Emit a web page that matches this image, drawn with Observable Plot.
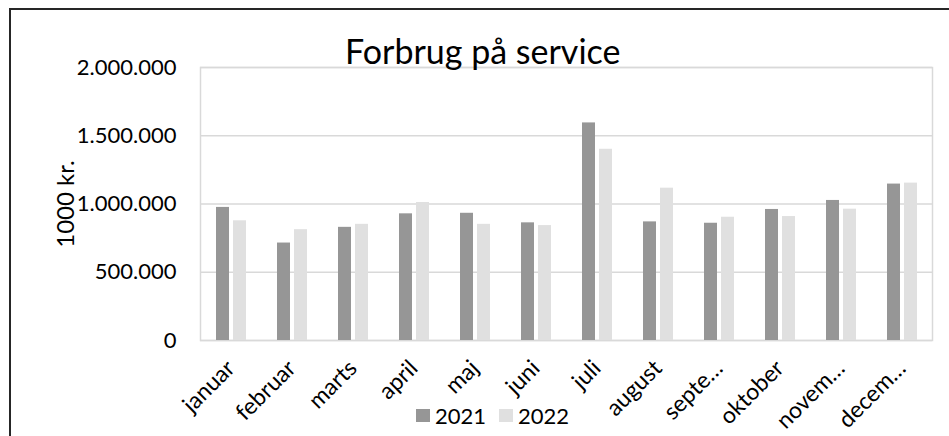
<!DOCTYPE html>
<html><head><meta charset="utf-8">
<script src="https://cdn.jsdelivr.net/npm/d3@7"></script>
<script src="https://cdn.jsdelivr.net/npm/@observablehq/plot@0.6"></script>
<style>
body{margin:0;background:#fff;}
#wrap{position:relative;width:949px;height:436px;overflow:hidden;font-family:Lato,sans-serif;color:#000;background:#fff;}
#frame{position:absolute;left:9px;top:8px;width:1000px;height:1000px;border-left:2px solid #262626;border-top:2px solid #262626;}
#title{position:absolute;left:345px;top:34px;font-size:34px;line-height:1;white-space:nowrap;}
#chart{position:absolute;left:0;top:0;}
#legend{position:absolute;left:416px;top:399px;}
.lg-swatch{margin-right:13px !important;}
.lg-swatch > svg{margin-right:5px !important;}
</style></head><body>
<div id="wrap"><div id="frame"></div><div id="chart"></div><div id="title"></div><div id="legend"></div></div>
<script>
const months = ["januar","februar","marts","april","maj","juni","juli","august","septe…","oktober","novem…","decem…"];
const series = ["2021","2022"];
const values2021 = [975000, 714000, 829000, 928000, 932000, 862000, 1594000, 869000, 859000, 960000, 1026000, 1146000];
const values2022 = [877000, 812000, 851000, 1011000, 851000, 842000, 1401000, 1116000, 903000, 908000, 962000, 1153000];
const yTicks = [0, 500000, 1000000, 1500000, 2000000];
const yLabel = "1000 kr.";
const titleText = "Forbrug på service";
const colors = ["#969696", "#e0e0e0"];

const data = months.flatMap((m, i) => [
  {month: m, year: series[0], value: values2021[i]},
  {month: m, year: series[1], value: values2022[i]}
]);
const fmt = d3.formatLocale({decimal: ",", thousands: ".", grouping: [3], currency: ["", ""]}).format(",d");

const chart = Plot.plot({
  width: 949, height: 436,
  marginLeft: 199, marginRight: 17, marginTop: 67, marginBottom: 96,
  style: {fontFamily: "Lato, sans-serif", fontSize: "22px", color: "#000", background: "transparent", overflow: "visible"},
  fx: {domain: months, paddingInner: 0, paddingOuter: 0},
  x: {domain: series, paddingInner: 0.237, paddingOuter: 0.84},
  y: {domain: [0, 2000000]},
  color: {domain: series, range: colors},
  marks: [
    Plot.gridY(yTicks, {stroke: "#d9d9d9", strokeOpacity: 1, strokeWidth: 1.5}),
    Plot.frame({stroke: "#d9d9d9", strokeWidth: 1.5, facet: "super"}),
    Plot.barY(data, {fx: "month", x: "year", y: "value", fill: "year"}),
    Plot.axisY(yTicks, {tickFormat: fmt, tickSize: 0, tickPadding: 24, fontSize: 22, label: null}),
    Plot.text([yLabel], {frameAnchor: "left", textAnchor: "middle", rotate: -90, dx: -134, fontSize: 24, facet: "super"}),
    Plot.axisFx({anchor: "bottom", tickSize: 0, tickRotate: -45, tickPadding: 24, dx: 0, fontSize: 23, label: null}),
    Plot.axisX({ticks: [], label: null})
  ]
});
document.getElementById("chart").appendChild(chart);
document.getElementById("title").textContent = titleText;

const legend = Plot.legend({
  color: {domain: series, range: colors},
  swatchWidth: 14, swatchHeight: 13, className: "lg",
  style: {fontFamily: "Lato, sans-serif", fontSize: "22px", color: "#000"}
});
document.getElementById("legend").appendChild(legend);
</script>
</body></html>
